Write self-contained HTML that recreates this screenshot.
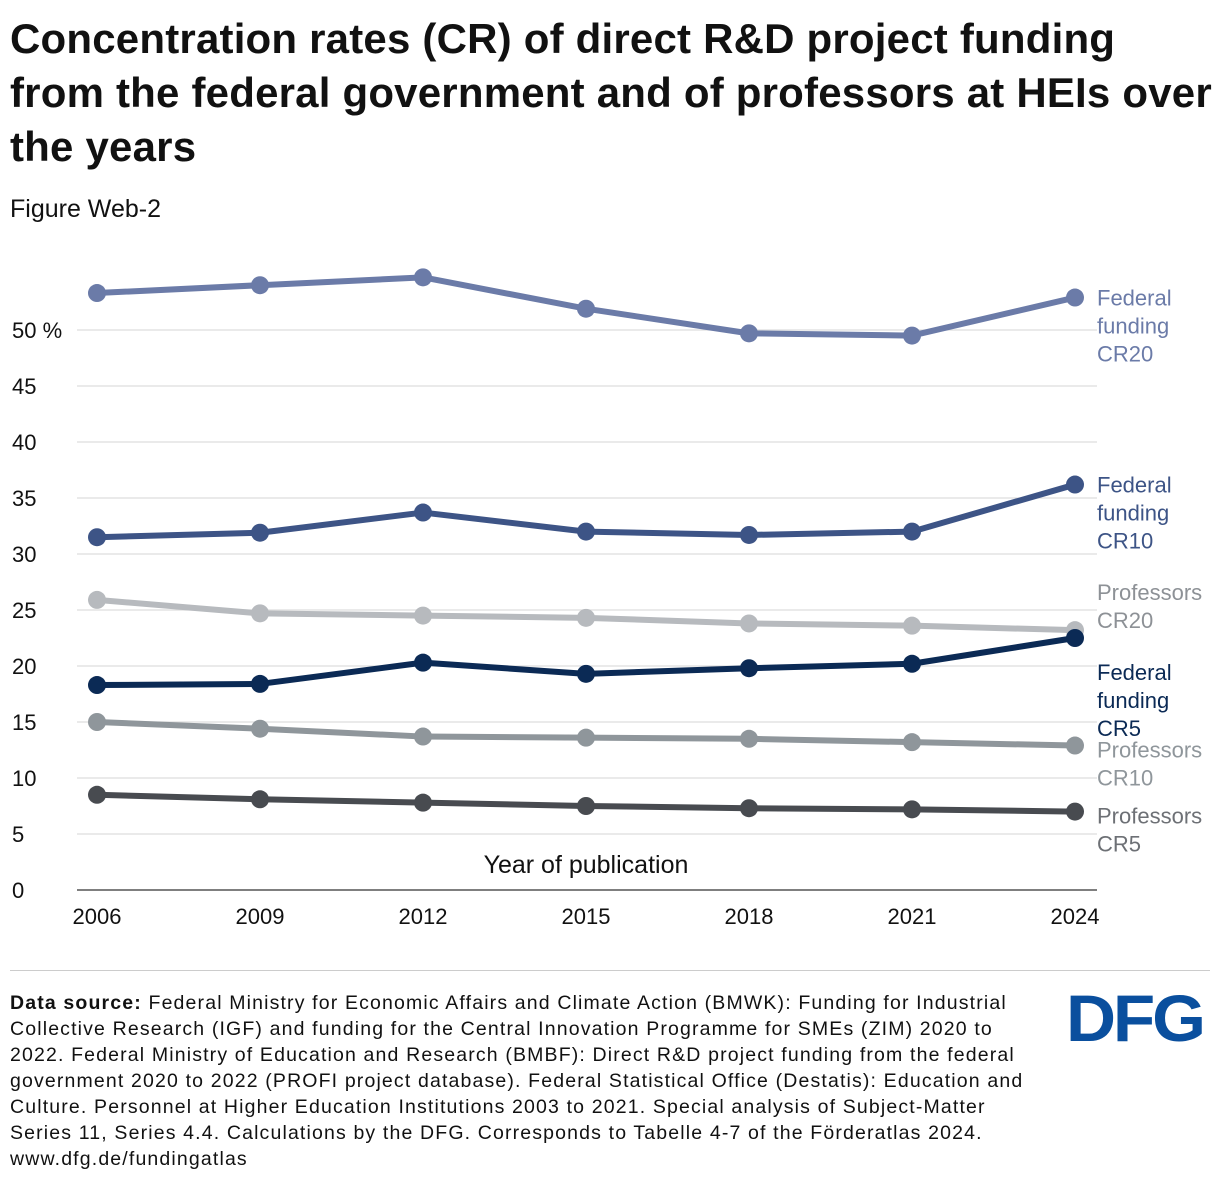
<!DOCTYPE html>
<html><head><meta charset="utf-8"><style>
body{margin:0;background:#fff;font-family:"Liberation Sans",sans-serif;color:#111;}
#wrap{position:relative;width:1220px;height:1184px;overflow:hidden}
h1{position:absolute;left:10px;top:12px;margin:0;font-size:42px;line-height:54px;font-weight:bold;width:1210px;letter-spacing:0.2px;white-space:nowrap}
.sub{position:absolute;left:10px;top:195px;font-size:25px}
.src{position:absolute;left:10px;top:990px;width:1060px;font-size:19.5px;line-height:26px;white-space:nowrap;letter-spacing:1.15px}
.logo{position:absolute;left:1066px;top:980px;font-size:66px;font-weight:900;color:#0a4f9e;letter-spacing:-3px;font-family:"Liberation Sans",sans-serif;transform:scaleX(1.05);transform-origin:left top}
</style></head><body><div id="wrap">
<h1>Concentration rates (CR) of direct R&amp;D project funding<br>from the federal government and of professors at HEIs over<br>the years</h1>
<div class="sub">Figure Web-2</div>
<svg id="chart" width="1220" height="960" style="position:absolute;left:0;top:0"></svg>
<div style="position:absolute;left:10px;top:970px;width:1200px;border-top:1px solid #ccc"></div>
<div class="src"><b>Data source:</b> Federal Ministry for Economic Affairs and Climate Action (BMWK): Funding for Industrial<br>Collective Research (IGF) and funding for the Central Innovation Programme for SMEs (ZIM) 2020 to<br>2022. Federal Ministry of Education and Research (BMBF): Direct R&amp;D project funding from the federal<br>government 2020 to 2022 (PROFI project database). Federal Statistical Office (Destatis): Education and<br>Culture. Personnel at Higher Education Institutions 2003 to 2021. Special analysis of Subject-Matter<br>Series 11, Series 4.4. Calculations by the DFG. Corresponds to Tabelle 4-7 of the Förderatlas 2024.<br>www.dfg.de/fundingatlas</div>
<div class="logo">DFG</div>
</div>
<script>
const years=["2006","2009","2012","2015","2018","2021","2024"];
const yTicks=[0,5,10,15,20,25,30,35,40,45,50];
const fedCR20=[53.3,54.0,54.7,51.9,49.7,49.5,52.9];
const fedCR10=[31.5,31.9,33.7,32.0,31.7,32.0,36.2];
const profCR20=[25.9,24.7,24.5,24.3,23.8,23.6,23.2];
const fedCR5=[18.3,18.4,20.3,19.3,19.8,20.2,22.5];
const profCR10=[15.0,14.4,13.7,13.6,13.5,13.2,12.9];
const profCR5=[8.5,8.1,7.8,7.5,7.3,7.2,7.0];
const series=[
 {name:"fed-cr20",v:fedCR20,c:"#6b7ba8",lab:["Federal","funding","CR20"],shift:0},
 {name:"fed-cr10",v:fedCR10,c:"#3d5486",lab:["Federal","funding","CR10"],shift:0},
 {name:"prof-cr20",v:profCR20,c:"#b7babe",lab:["Professors","CR20"],tc:"#8d9196",shift:-38},
 {name:"fed-cr5",v:fedCR5,c:"#0b2a55",lab:["Federal","funding","CR5"],shift:34},
 {name:"prof-cr10",v:profCR10,c:"#8f969b",lab:["Professors","CR10"],shift:4},
 {name:"prof-cr5",v:profCR5,c:"#484b50",lab:["Professors","CR5"],tc:"#6d7075",shift:4}
];
const svg=document.getElementById('chart'),NS="http://www.w3.org/2000/svg";
const X=i=>97+i*163, Y=v=>890-v*11.2;
function mk(t,a,p){const e=document.createElementNS(NS,t);for(const k in a)e.setAttribute(k,a[k]);(p||svg).appendChild(e);return e;}
yTicks.forEach(t=>{
 const g=mk('line',{x1:77,x2:1097,y1:Y(t),y2:Y(t),stroke:t===0?"#555":"#ddd","stroke-width":t===0?1.5:1.2});
 
 
 const tx=mk('text',{x:12,y:Y(t)+8,"font-size":22,fill:"#111"});
 tx.textContent=t===50?"50 %":t;
 
 
});
years.forEach((y,i)=>{
 const tx=mk('text',{x:X(i),y:924,"font-size":22,"text-anchor":"middle",fill:"#111"});
 tx.textContent=y;
 
 
});
const xt=mk('text',{x:586,y:873,"font-size":25,"text-anchor":"middle",fill:"#111"});
xt.textContent="Year of publication";


series.forEach(s=>{
 const pl=mk('polyline',{points:s.v.map((v,i)=>X(i)+","+Y(v)).join(" "),fill:"none",stroke:s.c,"stroke-width":6,"stroke-linejoin":"round"});
 
 
 s.v.forEach((v,i)=>{
  const c=mk('circle',{cx:X(i),cy:Y(v),r:9,fill:s.c});
  
  
 });
 const last=Y(s.v[s.v.length-1])+s.shift;
 const t=mk('text',{x:1097,"font-size":22,fill:s.tc||s.c});
 
 
 s.lab.forEach((l,k)=>{const ts=mk('tspan',{x:1097,y:last+8+k*28},t);ts.textContent=l;});
});
</script></body></html>
